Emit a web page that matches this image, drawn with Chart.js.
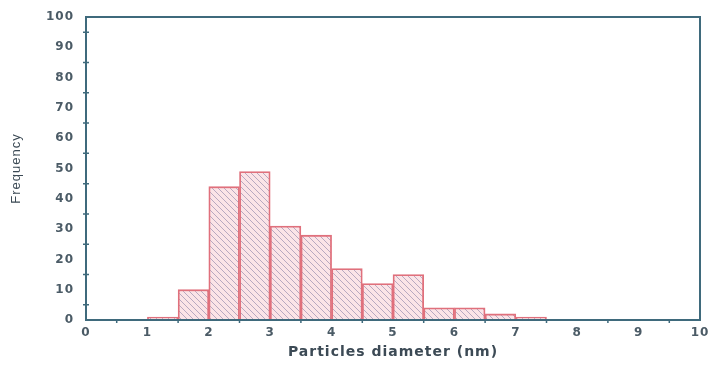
<!DOCTYPE html>
<html>
<head>
<meta charset="utf-8">
<script src="https://cdn.jsdelivr.net/npm/chart.js@4"></script>
<style>
  html, body { margin: 0; padding: 0; background: #fff; }
  #wrap { width: 713px; height: 365px; }
</style>
</head>
<body>
<div id="wrap"><canvas id="hist"></canvas></div>
<script>
'use strict';
// histogram bins (nm), bin centres and counts
const binCenters = [1.25, 1.75, 2.25, 2.75, 3.25, 3.75, 4.25, 4.75, 5.25, 5.75, 6.25, 6.75, 7.25];
const counts     = [1, 10, 44, 49, 31, 28, 17, 12, 15, 4, 4, 2, 1];
const xTicks     = [0, 1, 2, 3, 4, 5, 6, 7, 8, 9, 10];
const yTicks     = [0, 10, 20, 30, 40, 50, 60, 70, 80, 90, 100];

const AXIS = '#3f6a7c';
const TEXT = '#4b5b66';
const TICK_FONT = { family: 'DejaVu Sans', size: 12, weight: 'bold' };

// diagonal hatch fill
function hatch() {
  const c = document.createElement('canvas');
  c.width = 6; c.height = 6;
  const g = c.getContext('2d');
  g.fillStyle = '#fbe4e7';
  g.fillRect(0, 0, 6, 6);
  g.strokeStyle = 'rgba(130,120,160,0.55)';
  g.lineWidth = 1;
  g.beginPath();
  g.moveTo(0, 0); g.lineTo(6, 6);
  g.moveTo(-3, 3); g.lineTo(3, 9);
  g.moveTo(3, -3); g.lineTo(9, 3);
  g.stroke();
  return g.createPattern(c, 'repeat');
}

// the reference text is set wide
const spacingPlugin = {
  id: 'spacing',
  beforeLayout(chart) { chart.ctx.letterSpacing = '1px'; },
  beforeDraw(chart)   { chart.ctx.letterSpacing = '1px'; },
};

// frame + minor ticks
const framePlugin = {
  id: 'frame',
  afterDraw(chart) {
    const { ctx, chartArea: a, scales: { x, y } } = chart;
    ctx.save();
    ctx.strokeStyle = AXIS;
    ctx.lineWidth = 2;
    ctx.strokeRect(a.left, a.top, a.right - a.left, a.bottom - a.top);
    ctx.lineWidth = 1.5;
    ctx.beginPath();
    for (let v = 5; v < 100; v += 10) {
      const py = y.getPixelForValue(v);
      ctx.moveTo(a.left - 3, py); ctx.lineTo(a.left + 3, py);
    }
    for (let v = 0.5; v < 10; v += 1) {
      const px = x.getPixelForValue(v);
      ctx.moveTo(px, a.bottom - 1); ctx.lineTo(px, a.bottom + 3);
    }
    ctx.stroke();
    ctx.restore();
  }
};

new Chart(document.getElementById('hist'), {
  type: 'bar',
  data: {
    datasets: [{
      data: binCenters.map((c, i) => ({ x: c, y: counts[i] })),
      backgroundColor: hatch(),
      borderColor: '#e0707c',
      borderWidth: 1.8,
      barPercentage: 1,
      categoryPercentage: 1,
    }],
  },
  options: {
    responsive: true, maintainAspectRatio: false, animation: false,
    layout: { padding: { top: 17, right: 13, left: 0, bottom: 0 } },
    plugins: { legend: { display: false }, tooltip: { enabled: false } },
    scales: {
      x: {
        type: 'linear', min: 0, max: 10, offset: false,
        afterBuildTicks: s => { s.ticks = xTicks.map(v => ({ value: v })); },
        afterFit: s => { s.height = 45; },
        grid: { display: false, drawTicks: true, tickLength: 4, tickColor: AXIS, tickWidth: 1.5 },
        border: { color: AXIS, width: 2 },
        ticks: { color: TEXT, font: TICK_FONT, padding: 2, maxRotation: 0 },
        title: { display: true, text: 'Particles diameter (nm)', color: '#3c4a55',
                 font: { family: 'DejaVu Sans', size: 14, weight: 'bold' }, padding: { top: 3 } },
      },
      y: {
        min: 0, max: 100,
        afterBuildTicks: s => { s.ticks = yTicks.map(v => ({ value: v })); },
        afterFit: s => { s.width = 86; },
        grid: { display: false, drawTicks: true, tickLength: 7, tickColor: AXIS, tickWidth: 1.5 },
        border: { color: AXIS, width: 2 },
        ticks: { color: TEXT, font: TICK_FONT, padding: 5 },
        title: { display: true, text: 'Frequency', color: '#3c4a55',
                 font: { family: 'Liberation Sans', size: 13 }, padding: { top: 9, bottom: 0 } },
      },
    },
  },
  plugins: [spacingPlugin, framePlugin],
});
</script>
</body>
</html>
